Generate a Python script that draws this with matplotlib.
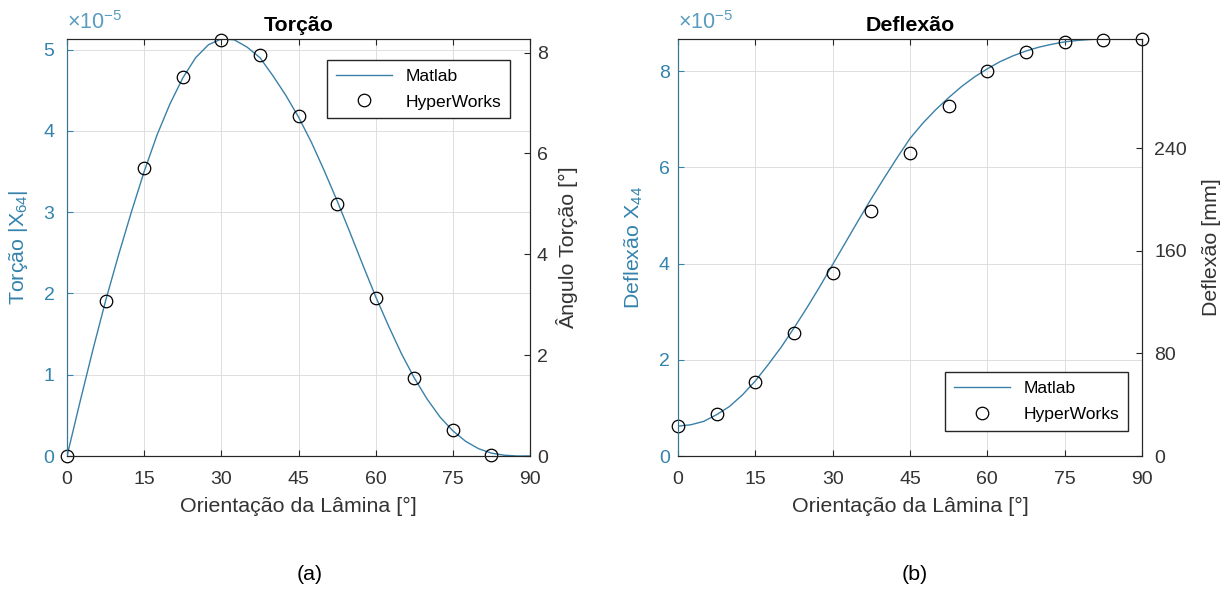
import matplotlib
matplotlib.use('Agg')
import matplotlib.pyplot as plt

plt.rcParams['font.family'] = ['Liberation Sans', 'DejaVu Sans']
plt.rcParams['mathtext.fontset'] = 'custom'
plt.rcParams['mathtext.rm'] = 'Liberation Sans'
plt.rcParams['mathtext.it'] = 'Liberation Sans'

# orientation angles [deg]
ang_curve = [0, 2.5, 5, 7.5, 10, 12.5, 15, 17.5, 20, 22.5, 25, 27.5, 30, 32.5, 35, 37.5,
             40, 42.5, 45, 47.5, 50, 52.5, 55, 57.5, 60, 62.5, 65, 67.5, 70, 72.5, 75,
             77.5, 80, 82.5, 85, 87.5, 90]
ang_pts = [0, 7.5, 15, 22.5, 30, 37.5, 45, 52.5, 60, 67.5, 75, 82.5, 90]

# torsion |X64| (x1e-5)
tor_matlab = [0, 0.66, 1.30, 1.91, 2.47, 3.00, 3.50, 3.95, 4.33, 4.65, 4.90, 5.06, 5.13,
              5.12, 5.03, 4.90, 4.68, 4.44, 4.17, 3.86, 3.51, 3.14, 2.75, 2.35, 1.96,
              1.60, 1.26, 0.96, 0.70, 0.48, 0.31, 0.18, 0.09, 0.035, 0.01, 0.0, 0.0]
tor_hw = [0.0, 1.91, 3.54, 4.66, 5.12, 4.93, 4.18, 3.10, 1.94, 0.955, 0.32, 0.01]

# deflection X44 (x1e-5)
def_matlab = [0.62, 0.65, 0.72, 0.86, 1.03, 1.27, 1.56, 1.90, 2.26, 2.66, 3.08, 3.52, 3.98,
              4.44, 4.90, 5.35, 5.78, 6.20, 6.60, 6.92, 7.20, 7.45, 7.68, 7.88, 8.05,
              8.20, 8.32, 8.42, 8.50, 8.56, 8.61, 8.64, 8.66, 8.67, 8.68, 8.68, 8.68]
def_hw = [0.62, 0.865, 1.54, 2.55, 3.80, 5.10, 6.30, 7.27, 8.00, 8.40, 8.60, 8.65, 8.68]

xticks = [0, 15, 30, 45, 60, 75, 90]

blue = '#3483ad'
line_blue = '#3a80a8'
dark = '#262626'


def style(ax, ax2, ylim, ticks, ylim2, ticks2, ylab, ylab2, title,
          lpad, rpad, lab_lpad, lab_rpad):
    ax.set_xlim(0, 90)
    ax.set_ylim(*ylim)
    ax.set_xticks(xticks)
    ax.set_yticks(ticks)
    ax2.set_ylim(*ylim2)
    ax2.set_yticks(ticks2)
    ax.grid(True, color='#dedede', linewidth=0.7)
    ax.set_axisbelow(True)
    ax.tick_params(axis='x', direction='in', length=4, labelsize=14, colors=dark,
                   labelcolor='#333333', top=True, pad=11)
    ax.tick_params(axis='y', direction='in', length=4, labelsize=14, colors=blue,
                   labelcolor=blue, pad=lpad)
    ax2.tick_params(axis='y', direction='in', length=4, labelsize=14, colors=dark,
                    labelcolor='#333333', pad=rpad)
    for a in (ax, ax2):
        a.spines['top'].set_color(dark)
        a.spines['bottom'].set_color(dark)
        a.spines['left'].set_color('#3a7592')
        a.spines['right'].set_color(dark)
    ax.set_xlabel('Orientação da Lâmina [°]', fontsize=15.4, color='#333333', labelpad=6)
    ax.set_ylabel(ylab, fontsize=15.4, color=blue, labelpad=lab_lpad)
    ax2.set_ylabel(ylab2, fontsize=15.4, color='#333333', labelpad=lab_rpad)
    ax.set_title(title, fontsize=15.4, fontweight='bold', color='black', pad=6)
    ax.text(0.0, 1.012, r'$\times10^{\mathrm{-5}}$', transform=ax.transAxes,
            color='#5b9cc0', fontsize=15.5, ha='left', va='bottom')


fig = plt.figure(figsize=(12.3, 5.89), dpi=100)

ax1 = fig.add_axes([0.0545, 0.2258, 0.3764, 0.708])
ax1b = ax1.twinx()
ax1.plot(ang_curve, tor_matlab, color=line_blue, linewidth=1.0, label='Matlab')
ax1.plot(ang_pts[:12], tor_hw, linestyle='none', marker='o', markersize=9,
         markerfacecolor='none', markeredgecolor='black', markeredgewidth=0.9,
         label='HyperWorks', clip_on=False)
style(ax1, ax1b, (0, 5.13), [0, 1, 2, 3, 4, 5], (0, 8.27), [0, 2, 4, 6, 8],
      'Torção |X$_{64}$|', 'Ângulo Torção [°]', 'Torção', 9, 5, 10, 6)
ax1.legend(loc='upper right', bbox_to_anchor=(0.957, 0.95), borderaxespad=0,
           fontsize=12.6, frameon=True, fancybox=False, edgecolor=dark, framealpha=1,
           borderpad=0.5, handlelength=3.2, labelspacing=0.6)

ax2 = fig.add_axes([0.5512, 0.2258, 0.3772, 0.708])
ax2b = ax2.twinx()
ax2.plot(ang_curve, def_matlab, color=line_blue, linewidth=1.0, label='Matlab')
ax2.plot(ang_pts, def_hw, linestyle='none', marker='o', markersize=9,
         markerfacecolor='none', markeredgecolor='black', markeredgewidth=0.9,
         label='HyperWorks', clip_on=False)
style(ax2, ax2b, (0, 8.67), [0, 2, 4, 6, 8], (0, 325), [0, 80, 160, 240],
      'Deflexão X$_{44}$', 'Deflexão [mm]', 'Deflexão', 6, 9, 10, 11)
ax2.legend(loc='lower right', bbox_to_anchor=(0.97, 0.06), borderaxespad=0,
           fontsize=12.6, frameon=True, fancybox=False, edgecolor=dark, framealpha=1,
           borderpad=0.5, handlelength=3.2, labelspacing=0.6)

fig.text(0.252, 0.0238, '(a)', fontsize=15.4, ha='center', va='center', color='black')
fig.text(0.744, 0.0238, '(b)', fontsize=15.4, ha='center', va='center', color='black')

fig.savefig('out.png', dpi=100)
